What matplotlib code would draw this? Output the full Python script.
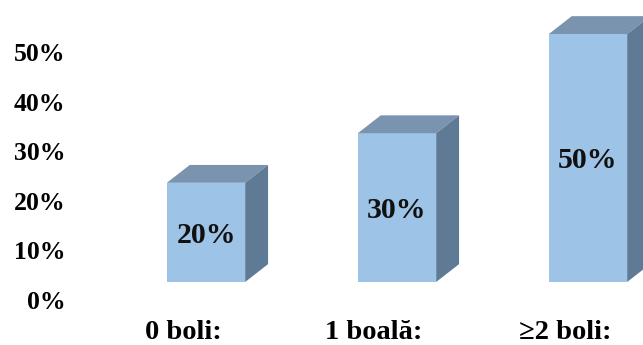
import matplotlib
matplotlib.use("Agg")
import matplotlib.pyplot as plt
from matplotlib.patches import Polygon
from matplotlib.transforms import ScaledTranslation

categories = ["0 boli:", "1 boală:", "\u22652 boli:"]
values = [20, 30, 50]
yticks = [0, 10, 20, 30, 40, 50]

front_color = "#9DC3E6"
top_color = "#7A93AE"
side_color = "#5F7A95"
my_dpi = 100

plt.rcParams["font.family"] = ["Liberation Serif", "DejaVu Serif"]
plt.rcParams["font.weight"] = "bold"

fig = plt.figure(figsize=(643 / my_dpi, 345 / my_dpi), dpi=my_dpi)
ax = fig.add_axes([100 / 643, 35 / 345, 543 / 643, 305 / 345])

width = 0.41
dx, dy = 0.12, 3.6  # depth of the 3D boxes in data units
x = list(range(len(values)))

ax.bar(x, values, width=width, color=front_color, edgecolor="none", zorder=2)
for xi, v in zip(x, values):
    left, right = xi - width / 2, xi + width / 2
    top = Polygon([(left, v), (right, v), (right + dx, v + dy), (left + dx, v + dy)],
                  closed=True, facecolor=top_color, edgecolor="none", zorder=2)
    side = Polygon([(right, 0), (right + dx, dy), (right + dx, v + dy), (right, v)],
                   closed=True, facecolor=side_color, edgecolor="none", zorder=2)
    ax.add_patch(top)
    ax.add_patch(side)
    ax.text(xi, v / 2 - 0.6, f"{v}%", ha="center", va="center",
            fontsize=21.5, fontweight="bold", color="#111111", zorder=3)

ax.set_xlim(-0.555, 2.288)
ax.set_ylim(-5.65, 55.85)
ax.set_yticks(yticks)
ax.set_yticklabels([f"{t}%" for t in yticks], fontsize=18.5, fontweight="bold")
ax.set_xticks(x)
ax.set_xticklabels(categories, fontsize=20.5, fontweight="bold")
ax.tick_params(axis="y", length=0, pad=25)
ax.tick_params(axis="x", length=0, pad=7)

# labels sit off the front faces, as in the original 3D chart
for lab in ax.get_yticklabels():
    lab.set_transform(lab.get_transform() + ScaledTranslation(0, -0.18, fig.dpi_scale_trans))
for lab in ax.get_xticklabels():
    lab.set_transform(lab.get_transform() + ScaledTranslation(-0.23, 0, fig.dpi_scale_trans))

for s in ax.spines.values():
    s.set_visible(False)

fig.savefig("out.png", dpi=my_dpi)
